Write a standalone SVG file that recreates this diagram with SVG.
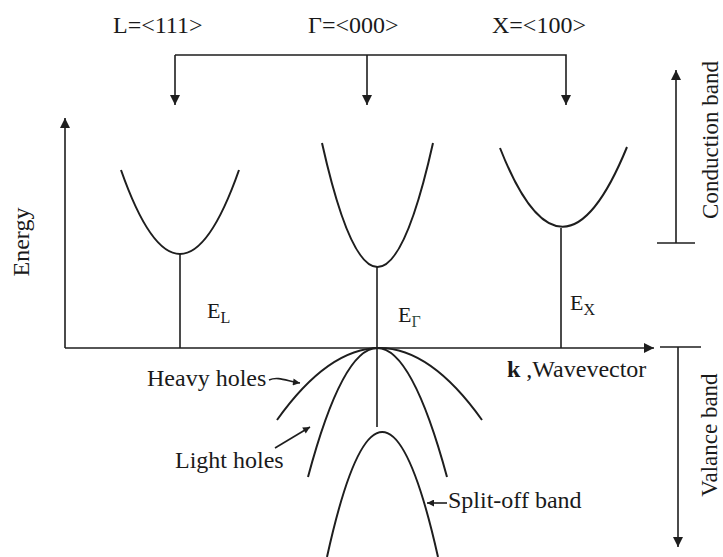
<svg xmlns="http://www.w3.org/2000/svg" width="723" height="557" viewBox="0 0 723 557">
  <defs>
    <style>
      .ln { fill: none; stroke: #1e1e1e; stroke-width: 1.6; }
      .cv { fill: none; stroke: #1e1e1e; stroke-width: 2; }
      .t { font-family: "Liberation Serif", "Times New Roman", serif; font-size: 24px; fill: #1a1a1a; }
      .e { font-family: "Liberation Serif", "Times New Roman", serif; font-size: 22px; fill: #1a1a1a; }
      .sub { font-size: 16px; }
    </style>
    <marker id="ah" viewBox="0 0 10 10" refX="10" refY="5" markerWidth="10" markerHeight="10" markerUnits="userSpaceOnUse" orient="auto">
      <path d="M0,0 L10,5 L0,10 Z" fill="#1e1e1e"/>
    </marker>
    <marker id="ahs" viewBox="0 0 10 10" refX="10" refY="5" markerWidth="8" markerHeight="7" markerUnits="userSpaceOnUse" orient="auto">
      <path d="M0,0 L10,5 L0,10 Z" fill="#1e1e1e"/>
    </marker>
  </defs>
  <rect width="723" height="557" fill="#ffffff"/>

  <g id="top-labels">
    <text class="t" x="113" y="33">L=&lt;111&gt;</text>
    <text class="t" x="308" y="33">Γ=&lt;000&gt;</text>
    <text class="t" x="492" y="33">X=&lt;100&gt;</text>
  </g>

  <g id="axes">
    <line class="ln" x1="65" y1="348" x2="65" y2="118" marker-end="url(#ah)"/>
    <line class="ln" x1="65" y1="348" x2="654" y2="348" marker-end="url(#ah)"/>
    <text class="t" transform="translate(29,242) rotate(-90)" text-anchor="middle">Energy</text>
    <text class="t" x="507" y="377"><tspan font-weight="bold">k</tspan> ,Wavevector</text>
  </g>

  <g id="band-L">
    <path class="cv" d="M121,170 Q180,338 239,170"/>
    <line class="ln" x1="180" y1="254" x2="180" y2="348"/>
    <text class="e" x="207" y="318">E<tspan class="sub" dy="5">L</tspan></text>
  </g>

  <g id="band-Gamma">
    <path class="cv" d="M322,143 Q377.5,391 433,143"/>
    <line class="ln" x1="377" y1="267" x2="377" y2="427"/>
    <text class="e" x="398" y="322">E<tspan class="sub" dy="5" fill="#2f4f3f">Γ</tspan></text>
  </g>

  <g id="band-X">
    <path class="cv" d="M500,148 Q562,306 627,147"/>
    <line class="ln" x1="561" y1="228" x2="561" y2="348"/>
    <text class="e" x="570" y="310">E<tspan class="sub" dy="5">X</tspan></text>
  </g>

  <g id="heavy-holes">
    <path class="cv" d="M277,420 Q379.5,276 482,420"/>
    <text class="t" x="147" y="386">Heavy holes</text>
  </g>

  <g id="light-holes">
    <path class="cv" d="M308,477 Q377,219 447,477"/>
    <text class="t" x="175" y="468">Light holes</text>
  </g>

  <g id="split-off">
    <path class="cv" d="M327,557 Q382,307 438,557"/>
    <text class="t" x="448" y="508">Split-off band</text>
  </g>

  <g id="conduction-band">
    <line class="ln" x1="676" y1="243" x2="676" y2="70" marker-end="url(#ah)"/>
    <line class="ln" x1="657" y1="243" x2="695" y2="243"/>
    <text class="t" transform="translate(718,140) rotate(-90)" text-anchor="middle" style="font-size:23px">Conduction band</text>
  </g>

  <g id="valance-band">
    <line class="ln" x1="660" y1="347" x2="701" y2="347"/>
    <line class="ln" x1="678" y1="347" x2="678" y2="547" marker-end="url(#ah)"/>
    <text class="t" transform="translate(717,435) rotate(-90)" text-anchor="middle" style="font-size:23px">Valance band</text>
  </g>

  <g id="connectors">
    <path class="ln" d="M175,55 L566,55 L566,105" marker-end="url(#ah)"/>
    <line class="ln" x1="175" y1="55" x2="175" y2="105" marker-end="url(#ah)"/>
    <line class="ln" x1="367" y1="55" x2="367" y2="105" marker-end="url(#ah)"/>
    <path class="ln" d="M269,380 C278,376 287,381 300,383" marker-end="url(#ahs)"/>
    <line class="ln" x1="275" y1="448" x2="310" y2="427" marker-end="url(#ahs)"/>
    <line class="ln" x1="447" y1="503" x2="427" y2="503" marker-end="url(#ahs)"/>
  </g>
</svg>
